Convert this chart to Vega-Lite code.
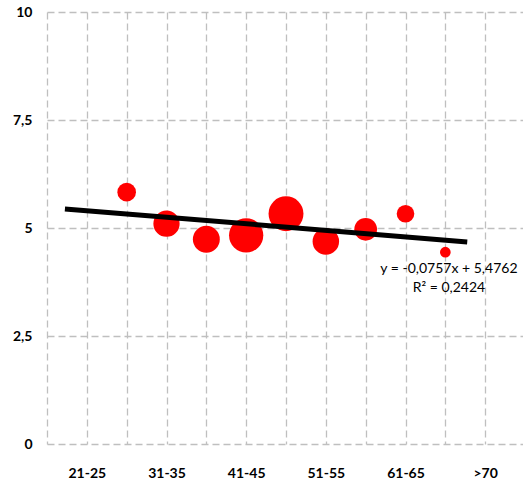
{
  "$schema": "https://vega.github.io/schema/vega-lite/v6.json",
  "width": 478,
  "height": 432,
  "autosize": "none",
  "padding": {"left": 47, "top": 12, "right": 0, "bottom": 39},
  "background": "white",
  "config": {
    "view": {"stroke": null},
    "font": "Lato",
    "axis": {
      "grid": true,
      "gridColor": "#bfbfbf",
      "gridDash": [7, 4],
      "gridWidth": 1.3,
      "domain": false,
      "ticks": false,
      "labelFont": "Lato",
      "labelFontWeight": "bold",
      "labelFontSize": 14,
      "labelColor": "#000000",
      "labelOverlap": false,
      "title": null
    }
  },
  "datasets": {
    "bubbles": [
      {"age": "26-30", "x": 2, "score": 5.83, "n": 30},
      {"age": "31-35", "x": 3, "score": 5.10, "n": 60},
      {"age": "36-40", "x": 4, "score": 4.74, "n": 63},
      {"age": "41-45", "x": 5, "score": 4.83, "n": 102},
      {"age": "46-50", "x": 6, "score": 5.33, "n": 106},
      {"age": "51-55", "x": 7, "score": 4.69, "n": 61},
      {"age": "56-60", "x": 8, "score": 4.97, "n": 45},
      {"age": "61-65", "x": 9, "score": 5.33, "n": 27},
      {"age": "66-70", "x": 10, "score": 4.44, "n": 10}
    ],
    "trend": [
      {"x": 0.45, "score": 5.442},
      {"x": 10.55, "score": 4.678}
    ],
    "labels": [
      {"x": 10.09, "score": 4.05, "text": "y = -0,0757x + 5,4762"},
      {"x": 10.09, "score": 3.61, "text": "R² = 0,2424"}
    ]
  },
  "encoding": {
    "x": {
      "field": "x",
      "type": "quantitative",
      "scale": {"domain": [0, 12], "nice": false, "zero": false},
      "axis": {
        "values": [0, 1, 2, 3, 4, 5, 6, 7, 8, 9, 10, 11, 12],
        "labelPadding": 22,
        "labelOverlap": false,
        "labelExpr": "datum.value == 1 ? '21-25' : datum.value == 3 ? '31-35' : datum.value == 5 ? '41-45' : datum.value == 7 ? '51-55' : datum.value == 9 ? '61-65' : datum.value == 11 ? '>70' : ''"
      }
    },
    "y": {
      "field": "score",
      "type": "quantitative",
      "scale": {"domain": [0, 10], "nice": false},
      "axis": {
        "values": [0, 2.5, 5, 7.5, 10],
        "labelPadding": 15,
        "labelExpr": "replace(format(datum.value, '~g'), '.', ',')"
      }
    }
  },
  "layer": [
    {
      "data": {"name": "bubbles"},
      "mark": {"type": "circle", "color": "#ff0000", "opacity": 1},
      "encoding": {
        "size": {
          "field": "n",
          "type": "quantitative",
          "scale": {"type": "linear", "domain": [0, 106], "range": [0, 1219]},
          "legend": null
        }
      }
    },
    {
      "data": {"name": "trend"},
      "mark": {"type": "line", "color": "#000000", "strokeWidth": 5, "strokeCap": "butt"},
      "encoding": {}
    },
    {
      "data": {"name": "labels"},
      "mark": {"type": "text", "font": "Lato", "fontSize": 14, "color": "#000000", "align": "center", "baseline": "middle"},
      "encoding": {
        "text": {"field": "text"}
      }
    }
  ]
}
